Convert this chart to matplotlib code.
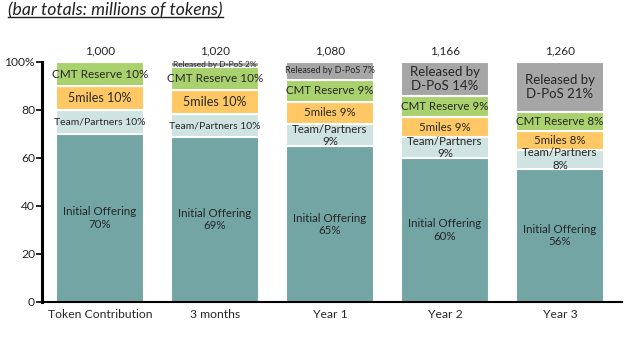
import matplotlib
matplotlib.use("Agg")
import matplotlib.pyplot as plt
from matplotlib.lines import Line2D

plt.rcParams['font.family'] = ['Lato', 'DejaVu Sans']

categories = ["Token Contribution", "3 months", "Year 1", "Year 2", "Year 3"]
totals = [1000, 1020, 1080, 1166, 1260]
initial = [70.0, 68.6, 64.8, 60.0, 55.6]
team = [10.0, 9.8, 9.3, 8.6, 7.9]
fivemiles = [10.0, 9.8, 9.3, 8.6, 7.9]
cmt = [10.0, 9.8, 9.2, 8.6, 7.9]
dpos = [0.0, 2.0, 7.4, 14.2, 20.7]

initial_labels = ["Initial Offering\n70%", "Initial Offering\n69%", "Initial Offering\n65%",
                  "Initial Offering\n60%", "Initial Offering\n56%"]
team_labels = ["Team/Partners 10%", "Team/Partners 10%", "Team/Partners\n9%",
               "Team/Partners\n9%", "Team/Partners\n8%"]
fivemiles_labels = ["5miles 10%", "5miles 10%", "5miles 9%", "5miles 9%", "5miles 8%"]
cmt_labels = ["CMT Reserve 10%", "CMT Reserve 10%", "CMT Reserve 9%", "CMT Reserve 9%", "CMT Reserve 8%"]
dpos_labels = ["", "Released by D-PoS 2%", "Released by D-PoS 7%",
               "Released by\nD-PoS 14%", "Released by\nD-PoS 21%"]

series = [
    (initial, "#72A5A4", initial_labels, [8.3, 8.3, 8.3, 8.3, 8.3]),
    (team, "#CFE3E0", team_labels, [7.5, 7.5, 8.3, 8.3, 8.3]),
    (fivemiles, "#FFC865", fivemiles_labels, [9, 9, 8.3, 8.3, 8.3]),
    (cmt, "#A9D16E", cmt_labels, [8.5, 8.5, 8.3, 8.3, 8.3]),
    (dpos, "#A6A6A6", dpos_labels, [0, 6, 6.5, 9.5, 9.5]),
]

fig = plt.figure(figsize=(6.4, 3.42), dpi=100)
ax = fig.add_axes([42/640, 40/342, 580/640, 240/342])

x = list(range(len(categories)))
bottom = [0.0]*len(categories)
txt = "#262626"
for vals, color, labels, sizes in series:
    ax.bar(x, vals, width=0.77, bottom=bottom, color=color, edgecolor="white", linewidth=1.5)
    for i in x:
        if vals[i] > 0 and labels[i]:
            ax.text(i, bottom[i] + vals[i]/2, labels[i], ha="center", va="center",
                    fontsize=sizes[i], color=txt, linespacing=1.15)
    bottom = [b + v for b, v in zip(bottom, vals)]

for i in x:
    ax.text(i, 102.5, f"{totals[i]:,}", ha="center", va="bottom", fontsize=8.5, color=txt)

ax.set_xlim(-0.505, 4.54)
ax.set_ylim(0, 100)
ax.set_yticks([0, 20, 40, 60, 80, 100])
ax.set_yticklabels(["0", "20", "40", "60", "80", "100%"])
ax.set_xticks(x)
ax.set_xticklabels(categories)
ax.tick_params(axis="x", length=0, labelsize=8.7, labelcolor=txt, pad=5)
ax.tick_params(axis="y", length=4, width=1.2, labelsize=8.7, labelcolor=txt, pad=1)
for s in ["top", "right"]:
    ax.spines[s].set_visible(False)
ax.spines["left"].set_linewidth(2.2)
ax.spines["bottom"].set_linewidth(1.5)

t = fig.text(8/640, 1 - 10/342, "(bar totals: millions of tokens)", fontsize=12.7,
             style="italic", color="#222222", ha="left", va="center")
fig.canvas.draw()
bb = t.get_window_extent().transformed(fig.transFigure.inverted())
fig.add_artist(Line2D([bb.x0, bb.x1], [bb.y0 + 0.004, bb.y0 + 0.004], transform=fig.transFigure,
                      color="#222222", linewidth=1))

fig.savefig("out.png", dpi=100)
